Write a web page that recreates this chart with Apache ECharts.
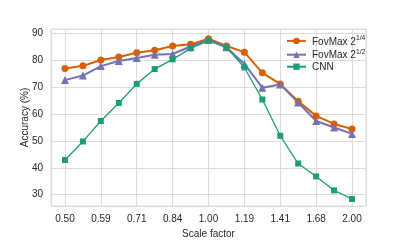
<!DOCTYPE html>
<html>
<head>
<meta charset="utf-8">
<script src="https://cdn.jsdelivr.net/npm/echarts@6/dist/echarts.min.js"></script>
<style>html,body{margin:0;padding:0;background:#fff}#c{width:407px;height:244px}</style>
</head>
<body>
<div id="c"></div>
<script>
// scale factors 2^(k/8), k=-8..8 ; tick labels every other point
const scaleFactors = [0.50, 0.545, 0.59, 0.648, 0.71, 0.771, 0.84, 0.917, 1.00, 1.09, 1.19, 1.297, 1.41, 1.54, 1.68, 1.834, 2.00];
const tickLabels = ['0.50', '0.59', '0.71', '0.84', '1.00', '1.19', '1.41', '1.68', '2.00'];
const fovmaxQuarter = [76.9, 77.9, 80.1, 81.2, 82.8, 83.7, 85.3, 85.9, 88.0, 85.3, 83.0, 75.3, 71.2, 64.7, 59.3, 56.3, 54.4];
const fovmaxHalf = [72.6, 74.3, 77.8, 79.7, 80.8, 82.0, 82.3, 85.1, 87.5, 84.8, 78.6, 69.8, 71.0, 64.3, 57.4, 55.0, 52.6];
const cnn = [42.9, 49.8, 57.4, 64.1, 71.2, 76.7, 80.3, 84.4, 87.3, 84.8, 77.3, 65.4, 51.9, 41.6, 36.8, 31.6, 28.4];
const seriesNames = ['FovMax 2^{1/4}', 'FovMax 2^{1/2}', 'CNN'];

const toXY = arr => arr.map((v, i) => [i, v]);
const font = 'Liberation Sans, Arial, sans-serif';
const txt = '#262626';
const gridCol = '#dcdcdc';
const fs = 10;

const chart = echarts.init(document.getElementById('c'), null, {renderer: 'canvas'});
chart.setOption({
  animation: false,
  textStyle: {fontFamily: font},
  grid: {left: 51, right: 41, top: 29, bottom: 32, show: true, borderColor: gridCol, borderWidth: 1, backgroundColor: '#fff'},
  xAxis: {
    type: 'value', min: -0.78, max: 16.78, splitNumber: 8,
    axisLine: {show: false}, axisTick: {show: false},
    splitLine: {show: true, lineStyle: {color: gridCol, width: 1}},
    axisLabel: {
      showMinLabel: false, showMaxLabel: false, margin: 8,
      fontSize: fs, color: txt, fontFamily: font,
      formatter: v => (Math.abs(v - Math.round(v)) < 1e-6 && Math.round(v) % 2 === 0) ? (tickLabels[Math.round(v) / 2] || '') : ''
    },
    name: 'Scale factor', nameLocation: 'middle', nameGap: 23, nameMoveOverlap: false,
    nameTextStyle: {fontSize: fs, color: txt, fontFamily: font}
  },
  yAxis: {
    type: 'value', min: 25.8, max: 91.6, splitNumber: 7,
    axisLine: {show: false}, axisTick: {show: false},
    splitLine: {show: true, lineStyle: {color: gridCol, width: 1}},
    axisLabel: {showMinLabel: false, showMaxLabel: false, margin: 8, fontSize: fs, color: txt, fontFamily: font},
    name: 'Accuracy (%)', nameLocation: 'middle', nameGap: 21, nameRotate: 90, nameMoveOverlap: false,
    nameTextStyle: {fontSize: fs, color: txt, fontFamily: font}
  },
  legend: {
    orient: 'vertical', left: 281, top: 30, itemWidth: 19, itemHeight: 8, itemGap: 2,
    data: seriesNames,
    formatter: n => {
      const m = n.match(/^(.*?)\^\{(.*)\}$/);
      return m ? '{a|' + m[1] + '}{s|' + m[2] + '}' : '{a|' + n + '}';
    },
    textStyle: {
      color: txt, fontFamily: font, padding: [0, 0, 0, 1],
      rich: {
        a: {fontSize: fs, color: txt, fontFamily: font, lineHeight: 11.8, verticalAlign: 'bottom'},
        s: {fontSize: 6.8, color: txt, fontFamily: font, lineHeight: 11.8, verticalAlign: 'top'}
      }
    }
  },
  series: [
    {name: seriesNames[0], type: 'line', data: toXY(fovmaxQuarter), symbol: 'circle', symbolSize: 7,
     lineStyle: {color: '#d95f02', width: 2}, itemStyle: {color: '#d95f02'}},
    {name: seriesNames[1], type: 'line', data: toXY(fovmaxHalf), symbol: 'triangle', symbolSize: 8,
     lineStyle: {color: '#7570b3', width: 2}, itemStyle: {color: '#7570b3'}},
    {name: seriesNames[2], type: 'line', data: toXY(cnn), symbol: 'rect', symbolSize: 6,
     lineStyle: {color: '#1b9e77', width: 1.3}, itemStyle: {color: '#1b9e77'}}
  ]
});
</script>
</body>
</html>
